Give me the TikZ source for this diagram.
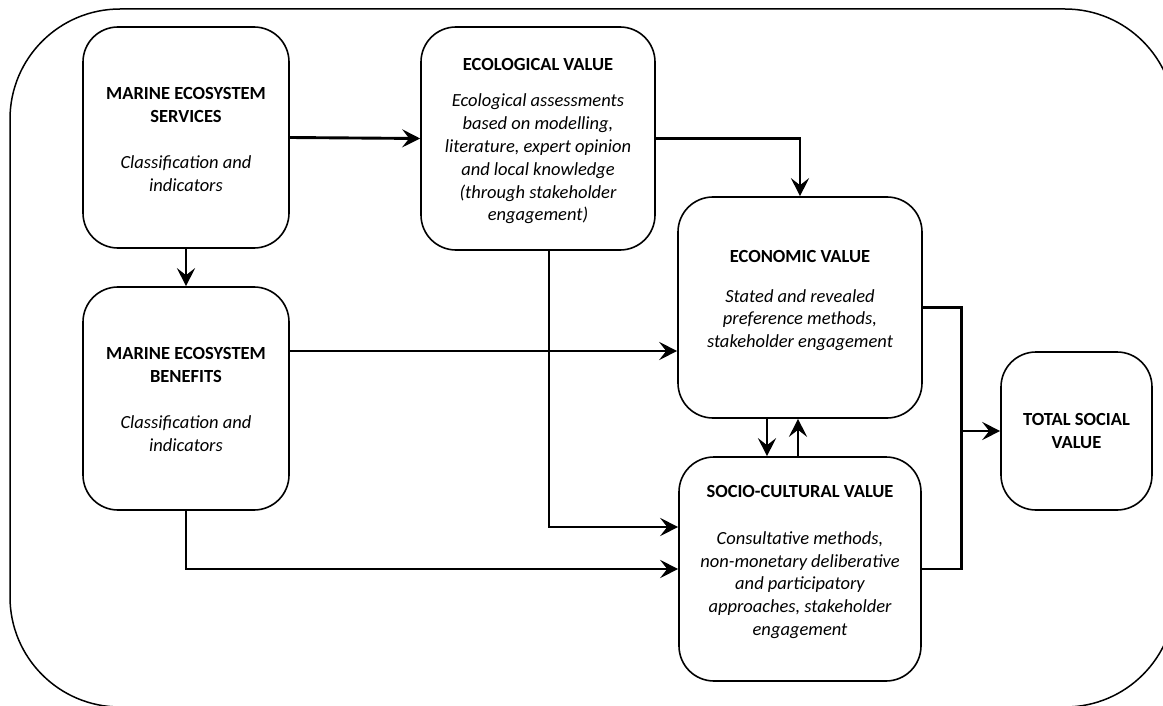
\documentclass[tikz,border=0pt]{standalone}
\usepackage{fontspec}
\setmainfont{Carlito}
\usetikzlibrary{arrows.meta,calc}
\begin{document}
\begin{tikzpicture}[x=1pt,y=-1pt,
  box/.style={draw, line width=1.6pt, rounded corners=35pt, inner sep=0pt},
  frame/.style={draw, line width=1.5pt, rounded corners=110pt},
  conn/.style={line width=2.9pt, -{Stealth[length=18pt,width=18pt,inset=7pt]}},
  wire/.style={line width=2.9pt},
  ttl/.style={font=\fontsize{18.5}{22.5}\selectfont\bfseries, align=center, inner sep=0pt},
  dsc/.style={font=\fontsize{18.5}{22.8}\selectfont\itshape, align=center, inner sep=0pt},
]
\useasboundingbox (0,0) rectangle (1163,706);
\begin{scope}
\clip (0,0) rectangle (1163,706);
\draw[frame] (10,9) rectangle (1175,707);
\end{scope}

% boxes
\node[box, minimum width=206pt, minimum height=221pt] (mes) at (186,137.5) {};
\node[box, minimum width=206pt, minimum height=223pt] (meb) at (186,398.5) {};
\node[box, minimum width=234pt, minimum height=223pt] (eco) at (538,138.5) {};
\node[box, minimum width=244pt, minimum height=221pt] (econ) at (800,307.5) {};
\node[box, minimum width=242pt, minimum height=224pt] (soc) at (800,569) {};
\node[box, minimum width=151pt, minimum height=158pt] (tsv) at (1076.5,431) {};

% texts
\node[ttl] (mes-t) at (186,105) {MARINE ECOSYSTEM\\SERVICES};
\node[dsc] (mes-d) at (186,174) {Classification and\\indicators};
\node[ttl] (meb-t) at (186,365) {MARINE ECOSYSTEM\\BENEFITS};
\node[dsc] (meb-d) at (186,434) {Classification and\\indicators};
\node[ttl] (eco-t) at (538,65) {ECOLOGICAL VALUE};
\node[dsc] (eco-d) at (538,159) {Ecological assessments\\based on modelling,\\literature, expert opinion\\and local knowledge\\(through stakeholder\\engagement)};
\node[ttl] (econ-t) at (800,257) {ECONOMIC VALUE};
\node[dsc] (econ-d) at (800,320) {Stated and revealed\\preference methods,\\stakeholder engagement};
\node[ttl] (soc-t) at (800,491) {SOCIO-CULTURAL VALUE};
\node[dsc] (soc-d) at (800,585) {Consultative methods,\\non-monetary deliberative\\and participatory\\approaches, stakeholder\\engagement};
\node[ttl] (tsv-t) at (1076.5,431) {TOTAL SOCIAL\\VALUE};

% connectors
\draw[conn] (mes.east) -- (eco.west);
\draw[conn] (mes.south) -- (meb.north);
\draw[conn] (eco.east) -| (econ.north);
\coordinate (p1) at ([yshift=47.5pt]meb.east);
\draw[conn] (p1) -- (p1 -| econ.west);
\coordinate (p2) at ([xshift=11pt]eco.south);
\coordinate (p3) at ([yshift=42pt]soc.west);
\draw[conn] (p2) |- (p3);
\draw[conn] (meb.south) |- (soc.west);
\coordinate (p4) at ([xshift=-33pt]econ.south);
\draw[conn] (p4) -- (p4 |- soc.north);
\coordinate (p5) at ([xshift=-2pt]soc.north);
\draw[conn] (p5) -- (p5 |- econ.south);
\coordinate (j) at ([xshift=-39pt]tsv.west);
\draw[wire] (econ.east) -| (j);
\draw[wire] (soc.east) -| (j);
\draw[conn] (j) -- (tsv.west);
\end{tikzpicture}
\end{document}
